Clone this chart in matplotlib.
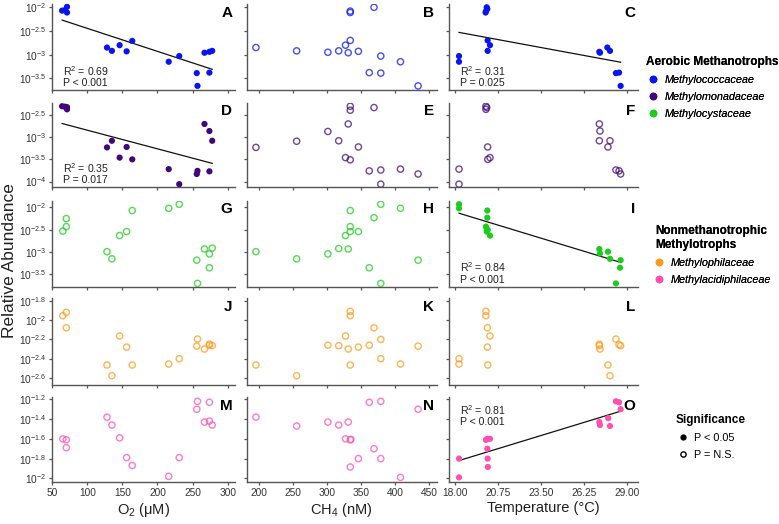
import matplotlib
matplotlib.use("Agg")
import matplotlib.pyplot as plt
from matplotlib.lines import Line2D
import numpy as np

plt.rcParams["font.family"] = ["Liberation Sans", "DejaVu Sans"]
plt.rcParams["mathtext.fontset"] = "custom"
plt.rcParams["mathtext.rm"] = "Liberation Sans"
plt.rcParams["mathtext.it"] = "Liberation Sans:italic"
plt.rcParams["mathtext.bf"] = "Liberation Sans:bold"
plt.rcParams["mathtext.default"] = "regular"

# ---- data: x = O2 (uM), CH4 (nM) or temperature (C); y = log10 relative abundance
# Methylococcaceae
A_o2 = [64, 68, 71, 71, 128, 135, 146, 156, 164, 216, 231, 256, 257, 267, 274, 274, 278]
A_log = [-2.07, -2.06, -1.99, -2.11, -2.85, -2.92, -2.80, -2.93, -2.71, -3.15, -3.03,
         -3.39, -3.66, -2.96, -3.38, -2.94, -2.92]
B_ch4 = [195, 255, 301, 317, 327, 331, 334, 334, 334, 346, 362, 369, 379, 379, 408, 434]
B_log = [-2.85, -2.92, -2.95, -2.92, -2.80, -2.96, -2.70, -2.08, -2.11, -2.93, -3.38,
         -2.00, -3.03, -3.39, -3.15, -3.66]
C_temp = [18.26, 18.26, 20.03, 20.07, 19.98, 19.96, 20.09, 20.24, 20.09, 27.23, 27.27,
          27.74, 27.91, 28.29, 28.49, 28.59]
C_log = [-3.03, -3.15, -2.00, -2.035, -2.08, -2.11, -2.70, -2.80, -2.92, -2.94, -2.96,
         -2.85, -2.92, -3.39, -3.38, -3.66]

# Methylomonadaceae
D_o2 = [64, 68, 71, 71, 128, 135, 146, 156, 164, 216, 231, 256, 257, 267, 274, 278, 274]
D_log = [-2.30, -2.31, -2.37, -2.32, -3.23, -3.08, -3.46, -3.22, -3.50, -3.72, -4.06,
         -3.83, -3.76, -2.70, -2.86, -3.08, -3.77]
E_ch4 = [195, 255, 301, 317, 327, 334, 331, 334, 334, 346, 362, 369, 379, 408, 434, 379]
E_log = [-3.23, -3.09, -2.87, -3.08, -3.46, -3.51, -2.70, -2.30, -2.39, -3.22, -3.76,
         -2.33, -3.74, -3.72, -3.83, -4.06]
F_temp = [19.98, 20.03, 19.98, 20.09, 20.24, 20.10, 18.26, 18.26, 27.23, 27.27, 27.23,
          27.91, 27.78, 28.29, 28.49, 28.59]
F_log = [-2.30, -2.33, -2.37, -3.22, -3.46, -3.50, -3.72, -4.06, -2.70, -2.86, -3.08,
         -3.08, -3.22, -3.74, -3.76, -3.83]

# Methylocystaceae
G_o2 = [65, 70, 70, 128, 135, 146, 156, 164, 216, 231, 256, 257, 267, 274, 278, 274]
G_log = [-2.53, -2.43, -2.25, -2.99, -3.15, -2.63, -2.54, -2.07, -2.02, -1.93, -3.18,
         -3.70, -2.93, -3.04, -2.91, -3.35]
H_ch4 = [195, 255, 301, 317, 331, 327, 334, 334, 334, 346, 362, 369, 379, 379, 408, 434]
H_log = [-2.99, -3.15, -3.04, -2.92, -2.93, -2.63, -2.54, -2.43, -2.07, -2.54, -3.35,
         -2.23, -1.93, -3.70, -2.02, -3.18]
I_temp = [18.26, 18.26, 20.07, 20.07, 19.98, 20.03, 20.24, 20.10, 27.23, 27.27, 27.78,
          27.91, 28.59, 28.55, 28.29]
I_log = [-1.93, -2.02, -2.07, -2.23, -2.43, -2.54, -2.63, -2.50, -2.93, -3.03, -2.99,
         -3.15, -3.18, -3.35, -3.70]

# Methylophilaceae
J_o2 = [65, 70, 70, 128, 135, 146, 156, 164, 216, 231, 256, 257, 267, 274, 278, 274]
J_log = [-1.955, -1.92, -2.08, -2.465, -2.576, -2.165, -2.28, -2.465, -2.455, -2.40,
         -2.27, -2.197, -2.30, -2.25, -2.265, -2.26]
K_ch4 = [334, 334, 369, 327, 379, 301, 317, 331, 346, 362, 434, 195, 255, 334, 379, 408]
K_log = [-1.91, -1.955, -2.08, -2.165, -2.20, -2.26, -2.265, -2.30, -2.28, -2.26, -2.27,
         -2.465, -2.576, -2.465, -2.40, -2.455]
L_temp = [18.26, 18.26, 19.98, 19.98, 20.07, 20.24, 20.07, 20.10, 27.23, 27.23, 27.27,
          27.78, 27.91, 28.29, 28.49, 28.59]
L_log = [-2.40, -2.455, -1.91, -1.955, -2.08, -2.165, -2.28, -2.465, -2.25, -2.265,
         -2.30, -2.465, -2.576, -2.197, -2.255, -2.265]

# Methylacidiphilaceae
M_o2 = [65, 70, 70, 128, 135, 146, 156, 164, 216, 231, 256, 257, 267, 274, 274, 278]
M_log = [-1.60, -1.61, -1.69, -1.38, -1.46, -1.59, -1.79, -1.87, -1.98, -1.79, -1.30,
         -1.22, -1.43, -1.23, -1.42, -1.46]
N_ch4 = [195, 255, 301, 317, 331, 327, 334, 335, 346, 334, 369, 362, 379, 379, 408, 434]
N_log = [-1.38, -1.47, -1.43, -1.46, -1.43, -1.60, -1.61, -1.605, -1.80, -1.885, -1.70,
         -1.23, -1.22, -1.80, -1.99, -1.30]
O_temp = [18.26, 18.26, 19.98, 20.07, 20.24, 20.07, 20.09, 20.10, 27.23, 27.27, 27.80,
          27.91, 28.29, 28.49, 28.59]
O_log = [-1.80, -1.99, -1.61, -1.60, -1.60, -1.70, -1.80, -1.885, -1.43, -1.46, -1.39,
         -1.47, -1.22, -1.23, -1.30]

# regression lines as printed (log10 abundance at the lowest and highest x)
A_fit = [-2.27, -3.31]
C_fit = [-2.53, -3.16]
D_fit = [-2.69, -3.59]
I_fit = [-2.13, -3.23]
O_fit = [-1.82, -1.32]

families = ["Methylococcaceae", "Methylomonadaceae", "Methylocystaceae",
            "Methylophilaceae", "Methylacidiphilaceae"]
colors = ["#0a14f0", "#40087a", "#1ccc1c", "#ff9a1a", "#ff4fb0"]

panel_data = [
    [(A_o2, A_log), (B_ch4, B_log), (C_temp, C_log)],
    [(D_o2, D_log), (E_ch4, E_log), (F_temp, F_log)],
    [(G_o2, G_log), (H_ch4, H_log), (I_temp, I_log)],
    [(J_o2, J_log), (K_ch4, K_log), (L_temp, L_log)],
    [(M_o2, M_log), (N_ch4, N_log), (O_temp, O_log)],
]
letters = ["ABC", "DEF", "GHI", "JKL", "MNO"]

# significant panels: (row, col) -> (fit, R2, P text)
stats = {
    (0, 0): (A_fit, "0.69", "P < 0.001"),
    (0, 2): (C_fit, "0.31", "P = 0.025"),
    (1, 0): (D_fit, "0.35", "P = 0.017"),
    (2, 2): (I_fit, "0.84", "P < 0.001"),
    (4, 2): (O_fit, "0.81", "P < 0.001"),
}

y_ticks = [
    [-2, -2.5, -3, -3.5],
    [-2.5, -3, -3.5, -4],
    [-2, -2.5, -3, -3.5],
    [-1.8, -2, -2.2, -2.4, -2.6],
    [-1.2, -1.4, -1.6, -1.8, -2],
]
y_lims = [(-3.747, -1.93), (-4.124, -2.22), (-3.78, -1.85), (-2.672, -1.772), (-2.037, -1.176)]

o2_ticks = [50, 100, 150, 200, 250, 300]
ch4_ticks = [200, 250, 300, 350, 400, 450]
temp_ticks = [18.00, 20.75, 23.50, 26.25, 29.00]
x_ticks = [o2_ticks, ch4_ticks, temp_ticks]
x_tick_labels = [[str(t) for t in o2_ticks], [str(t) for t in ch4_ticks],
                 [f"{t:.2f}" for t in temp_ticks]]
x_lims = [(49.6, 310.5), (181.4, 461.4), (17.62, 29.72)]
x_labels = ["O$_2$ (μM)", "CH$_4$ (nM)", "Temperature (°C)"]

# layout in pixels
W, H = 779, 524
col_px = [(52, 235), (246.7, 436.7), (449, 638.3)]
row_px = [(4, 90), (102.7, 187), (200.7, 287), (298, 385), (397, 482)]
spine_c = "#555555"

fig = plt.figure(figsize=(W / 100, H / 100), dpi=100)

for r in range(5):
    for c in range(3):
        x0, x1 = col_px[c]
        y0, y1 = row_px[r]
        ax = fig.add_axes([x0 / W, 1 - y1 / H, (x1 - x0) / W, (y1 - y0) / H])
        xs = np.array(panel_data[r][c][0], dtype=float)
        logs = np.array(panel_data[r][c][1], dtype=float)
        if (r, c) in stats:
            fit, r2, ptxt = stats[(r, c)]
            ax.scatter(xs, 10 ** logs, s=20, color=colors[r], edgecolor="none", zorder=3)
            xl = [xs.min(), xs.max()]
            ax.plot(xl, [10 ** v for v in fit], color="#111111", lw=0.9, zorder=2)
            ty = 0.79 if r == 4 else 0.165
            ax.text(0.06, ty, f"R$^2$ = {r2}\n{ptxt}", transform=ax.transAxes,
                    fontsize=7.6, va="center", ha="left", color="#222222",
                    linespacing=1.05)
        else:
            ax.scatter(xs, 10 ** logs, s=20, facecolor="none", edgecolor=colors[r],
                       linewidth=1.0, alpha=0.75, zorder=3)

        ax.set_yscale("log")
        ax.set_ylim(10 ** y_lims[r][0], 10 ** y_lims[r][1])
        ax.set_xlim(*x_lims[c])
        ax.minorticks_off()
        yt = y_ticks[r]
        ax.set_yticks([10 ** v for v in yt])
        if c == 0:
            ax.set_yticklabels([f"$10^{{{v:g}}}$" for v in yt])
        else:
            ax.set_yticklabels([])
        ax.set_xticks(x_ticks[c])
        if r == 4:
            ax.set_xticklabels(x_tick_labels[c])
            ax.set_xlabel(x_labels[c], fontsize=10.5, labelpad=2.5, color="#222222")
        else:
            ax.set_xticklabels([])

        for side in ["top", "right"]:
            ax.spines[side].set_visible(False)
        for side in ["left", "bottom"]:
            ax.spines[side].set_color(spine_c)
            ax.spines[side].set_linewidth(1.0)
        ax.tick_params(axis="both", length=2.5, width=0.9, color=spine_c,
                       labelsize=7.3, labelcolor="#333333", pad=1.5)
        ax.patch.set_alpha(0)

        ax.text(0.985, 0.9, letters[r][c], transform=ax.transAxes, fontsize=11,
                fontweight="bold", ha="right", va="center")

fig.text(10 / W, 1 - 261 / H, "Relative Abundance", rotation=90, fontsize=12.5,
         ha="center", va="center", color="#222222")


# legends
def dot(col, filled=True, ms=5.5):
    if filled:
        return Line2D([], [], marker="o", ls="none", color=col, ms=ms, mec="none")
    return Line2D([], [], marker="o", ls="none", mfc="none", mec=col, ms=ms - 1, mew=1.0)


leg_common = dict(loc="upper left", frameon=False, borderpad=0, borderaxespad=0,
                  handlelength=1.2, handletextpad=0.5, labelspacing=0.65,
                  prop={"style": "italic", "size": 7.8},
                  title_fontproperties={"weight": "bold", "size": 8.5})

leg1 = fig.legend(handles=[dot(colors[0]), dot(colors[1]), dot(colors[2])],
                  labels=families[:3], title="Aerobic Methanotrophs",
                  bbox_to_anchor=(646 / W, 1 - 56 / H), alignment="left", **leg_common)
leg2 = fig.legend(handles=[dot(colors[3]), dot(colors[4])],
                  labels=families[3:], title="Nonmethanotrophic\nMethylotrophs",
                  bbox_to_anchor=(652 / W, 1 - 225 / H), alignment="center", **leg_common)
leg_common["prop"] = {"size": 7.8}
leg3 = fig.legend(handles=[dot("black", ms=4.5), dot("black", False, ms=4.8)],
                  labels=["P < 0.05", "P = N.S."], title="Significance",
                  bbox_to_anchor=(676 / W, 1 - 414 / H), alignment="left", **leg_common)
fig.add_artist(leg1)
fig.add_artist(leg2)

fig.savefig("out.png", dpi=100)
